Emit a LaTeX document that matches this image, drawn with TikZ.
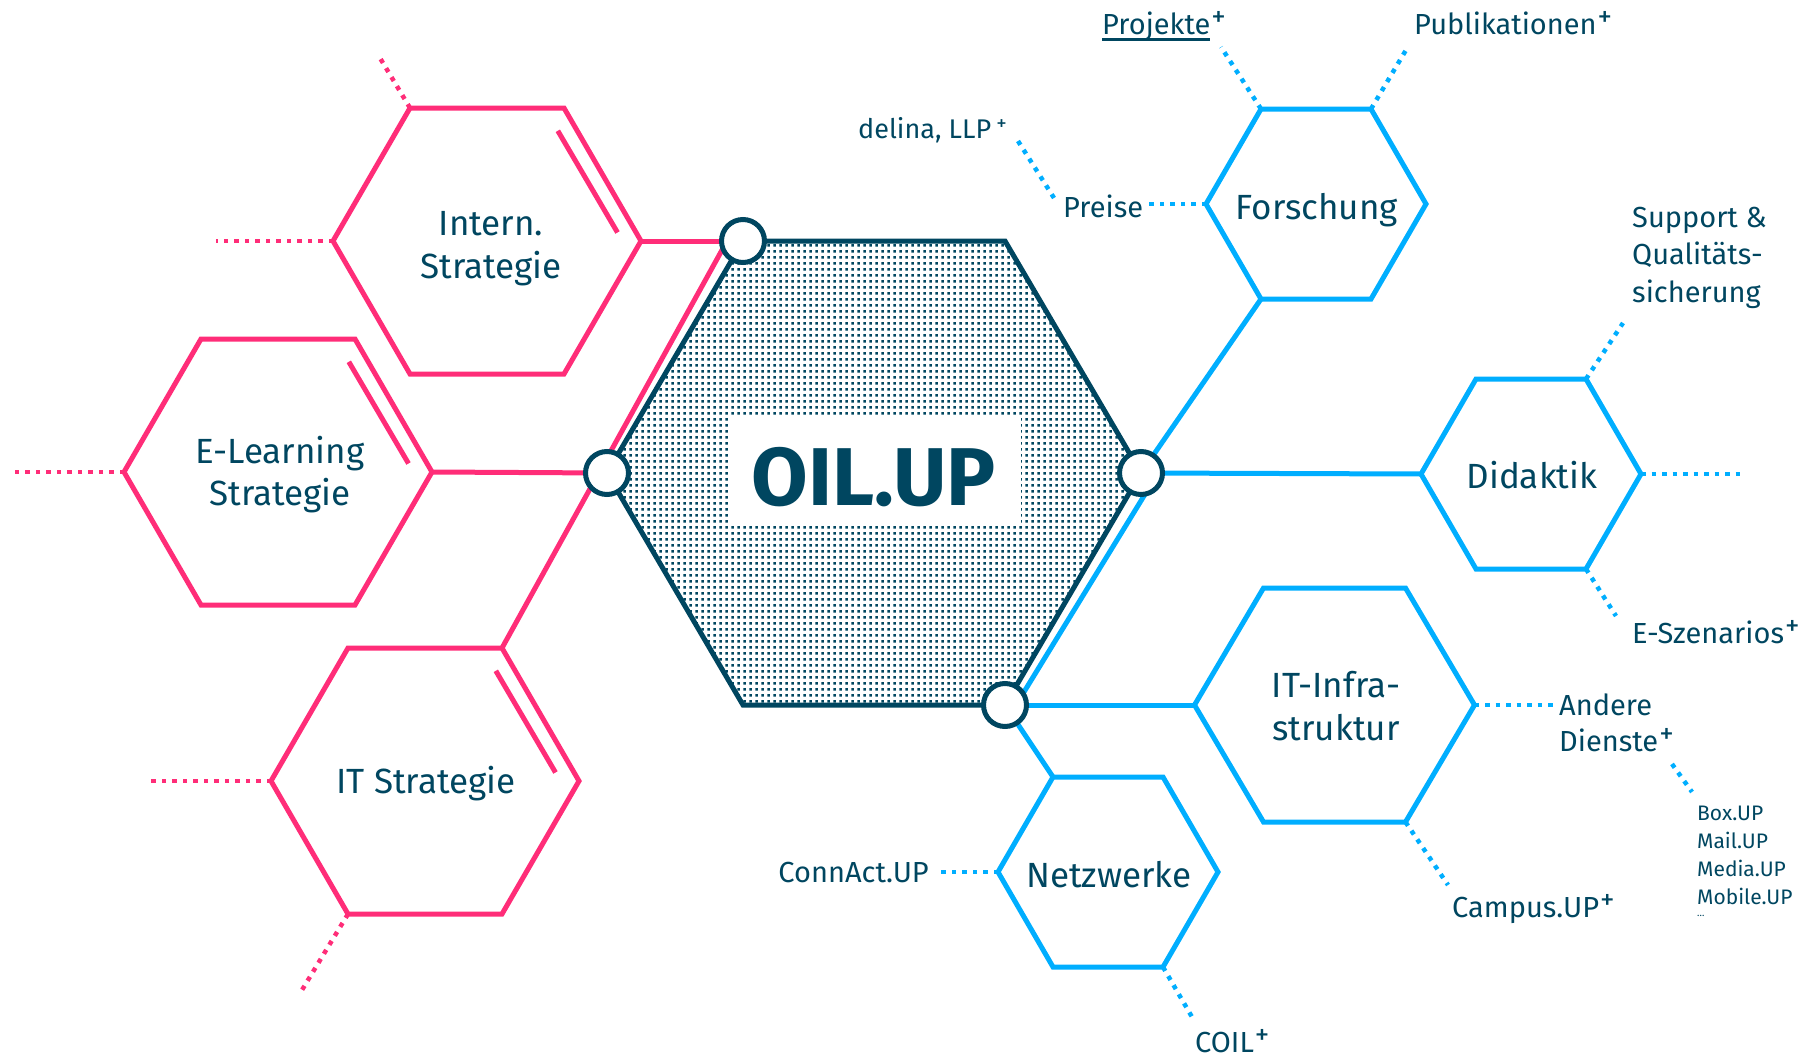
\documentclass[tikz,border=0pt]{standalone}
\usepackage{fontspec}
\setmainfont{Fira Sans}
\usetikzlibrary{patterns.meta}
\definecolor{hexpink}{RGB}{255,45,120}
\definecolor{hexblue}{RGB}{0,174,255}
\definecolor{oilteal}{RGB}{0,70,96}

\tikzdeclarepattern{
  name=oildots,
  type=uncolored,
  bounding box={(0pt,0pt) and (5.6pt,5.6pt)},
  tile size={(5.6pt,5.6pt)},
  code={\pgfpathrectangle{\pgfpoint{1.4pt}{1.4pt}}{\pgfpoint{2.8pt}{2.8pt}}\pgfusepath{fill}}
}

\newcommand\pls{\hspace{1pt}\raisebox{8pt}{\fontsize{29}{29}\selectfont +}}
\newcommand\plssmall{\raisebox{8pt}{\fontsize{21}{21}\selectfont +}}
\newcommand\ulbox[1]{\setbox0\hbox{#1}\rlap{\rule[-6pt]{\wd0}{2.5pt}}\box0}
\newcommand\cstack[3]{\vtop{\baselineskip=#1pt\halign{\hfil##\hfil\cr #2\cr #3\cr}}}

\tikzset{
  pics/hexa/.style n args={4}{code={
    \coordinate (-c) at (0,0);
    \coordinate (-l) at (-#1,0);
    \coordinate (-r) at (#1,0);
    \coordinate (-tl) at (-#2,-#3);
    \coordinate (-tr) at (#2,-#3);
    \coordinate (-bl) at (-#2,#3);
    \coordinate (-br) at (#2,#3);
    \path[#4] (-tl) -- (-tr) -- (-r) -- (-br) -- (-bl) -- (-l) -- cycle;
  }},
  pinkhex/.style={draw=hexpink, line width=5pt},
  bluehex/.style={draw=hexblue, line width=5pt},
  corehex/.style={draw=oilteal, line width=5pt, pattern=oildots, pattern color=oilteal},
  pinkln/.style={draw=hexpink, line width=5pt},
  blueln/.style={draw=hexblue, line width=5pt},
  pinkdot/.style={draw=hexpink, line width=4.5pt, dash pattern=on 4.5pt off 6pt},
  bluedot/.style={draw=hexblue, line width=4.5pt, dash pattern=on 4.5pt off 6pt},
  joint/.style={circle, draw=oilteal, line width=5pt, fill=white, minimum size=43pt, inner sep=0pt},
  hexlbl/.style={font=\fontsize{35}{43}\selectfont, text=oilteal, inner sep=0pt, anchor=base},
  sidelbl/.style={font=\fontsize{29}{36}\selectfont, text=oilteal, inner sep=0pt, anchor=base west},
  tinylbl/.style={font=\fontsize{21}{28}\selectfont, text=oilteal, inner sep=0pt, anchor=base west},
}

\begin{document}
\begin{tikzpicture}[x=1pt, y=-1pt]
\useasboundingbox (0,0) rectangle (1809,1057);

% hexagons
\pic (core) at (874,473) {hexa={267}{131}{232}{corehex}};
\pic (intern) at (487,241) {hexa={154}{77}{133}{pinkhex}};
\pic (elearn) at (278,472) {hexa={154}{77}{133}{pinkhex}};
\pic (itstrat) at (425,781) {hexa={154}{77}{133}{pinkhex}};
\pic (forsch) at (1316,204) {hexa={110}{55}{95}{bluehex}};
\pic (didak) at (1531,474) {hexa={110}{55}{95}{bluehex}};
\pic (netz) at (1108,872) {hexa={110}{55}{95}{bluehex}};
\pic (itinfra) at (1334.5,705) {hexa={140}{71}{117}{bluehex}};

% inner double lines
\draw[pinkln] ([shift={(70.8,-110.2)}]intern-c) -- ([shift={(130.5,-8.5)}]intern-c);
\draw[pinkln] ([shift={(70.8,-110.2)}]elearn-c) -- ([shift={(130.5,-8.5)}]elearn-c);
\draw[pinkln] ([shift={(70.8,-110.2)}]itstrat-c) -- ([shift={(130.5,-8.5)}]itstrat-c);

% solid connectors
\draw[pinkln] (intern-r) -- (core-tl);
\draw[pinkln] (elearn-r) -- (core-l);
\draw[pinkln] (itstrat-tr) -- ([shift={(-16,0)}]core-tl);
\draw[blueln] (forsch-bl) -- (core-r);
\draw[blueln] (core-r) -- (didak-l);
\draw[blueln] ([shift={(17,0)}]core-r) -- ([shift={(11,0)}]core-br);
\draw[blueln] (core-br) -- (itinfra-l);
\draw[blueln] (core-br) -- (netz-tl);

% free ends of dotted connectors
\coordinate (pd1) at (380,58);
\coordinate (pd2) at (216,241);
\coordinate (pd3) at (12,472);
\coordinate (pd4) at (150,781);
\coordinate (pd5) at (302,990);
\coordinate (bd1) at (1221,47);
\coordinate (bd2) at (1406,50);
\coordinate (bd3) at (1148,204);
\coordinate (bd4a) at (1018,141);
\coordinate (bd4b) at (1054,198);
\coordinate (bd5) at (1623,323);
\coordinate (bd6) at (1742,474);
\coordinate (bd7) at (1616,616);
\coordinate (bd8) at (1553,705);
\coordinate (bd9) at (1448,885);
\coordinate (bd10a) at (1672,764);
\coordinate (bd10b) at (1692,792);
\coordinate (bd11) at (937,872);
\coordinate (bd12) at (1192,1017);

% dotted connectors
\draw[pinkdot] (intern-tl) -- (pd1);
\draw[pinkdot] (intern-l) -- (pd2);
\draw[pinkdot] (elearn-l) -- (pd3);
\draw[pinkdot] (itstrat-l) -- (pd4);
\draw[pinkdot] (itstrat-bl) -- (pd5);
\draw[bluedot] (forsch-tl) -- (bd1);
\draw[bluedot] (forsch-tr) -- (bd2);
\draw[bluedot] (forsch-l) -- (bd3);
\draw[bluedot] (bd4a) -- (bd4b);
\draw[bluedot] (didak-tr) -- (bd5);
\draw[bluedot] (didak-r) -- (bd6);
\draw[bluedot] (didak-br) -- (bd7);
\draw[bluedot] (itinfra-r) -- (bd8);
\draw[bluedot] (itinfra-br) -- (bd9);
\draw[bluedot] (bd10a) -- (bd10b);
\draw[bluedot] (netz-l) -- (bd11);
\draw[bluedot] (netz-br) -- (bd12);

% joints
\node[joint] (j1) at (core-tl) {};
\node[joint] (j2) at (core-l) {};
\node[joint] (j3) at (core-r) {};
\node[joint] (j4) at (core-br) {};

% centre label
\node[fill=white, inner xsep=0pt, inner ysep=0pt, text height=87pt, text depth=18pt,
      minimum width=293pt, anchor=base, text=oilteal,
      font=\fontsize{82}{90}\selectfont\bfseries] (oil) at (874,505) {OIL.UP};

% hexagon labels
\node[hexlbl] (t-intern) at (491,235) {\cstack{43}{Intern.}{Strategie}};
\node[hexlbl] (t-elearn) at (280,463) {\cstack{42}{E-Learning}{Strategie}};
\node[hexlbl] (t-itstrat) at (426,793) {IT Strategie};
\node[hexlbl] (t-forsch) at (1317,219) {Forschung};
\node[hexlbl] (t-didak) at (1532,488) {Didaktik};
\node[hexlbl] (t-itinfra) at (1336,697) {\cstack{43}{IT-Infra-}{struktur}};
\node[hexlbl] (t-netz) at (1109,887) {Netzwerke};

% side labels
\node[sidelbl] (projekte) at (1102,35) {\ulbox{Projekte}\pls};
\node[sidelbl] (publ) at (1414,35) {Publikationen\pls};
\node[sidelbl, font=\fontsize{27}{33}\selectfont] (delina) at (858,138) {delina, LLP\hspace{5pt}\plssmall};
\node[sidelbl] (preise) at (1063,217) {Preise};
\node[sidelbl] (support) at (1632,227) {\vtop{\baselineskip=37.5pt\hbox{Support \&}\hbox{Qualitäts-}\hbox{sicherung}}};
\node[sidelbl] (eszen) at (1632,643) {E-Szenarios\pls};
\node[sidelbl] (andere) at (1559,715) {\vtop{\baselineskip=36.7pt\hbox{Andere}\hbox{Dienste\pls}}};
\node[tinylbl] (dienste) at (1697,820) {\vtop{\baselineskip=28.3pt\hbox{Box.UP}\hbox{Mail.UP}\hbox{Media.UP}\hbox{Mobile.UP}\baselineskip=12pt\hbox{\fontsize{10}{10}\selectfont\dots}}};
\node[sidelbl] (campus) at (1452,917) {Campus.UP\pls};
\node[sidelbl, anchor=base east] (connact) at (929,882) {ConnAct.UP};
\node[sidelbl] (coil) at (1195,1052) {COIL\pls};
\end{tikzpicture}
\end{document}
